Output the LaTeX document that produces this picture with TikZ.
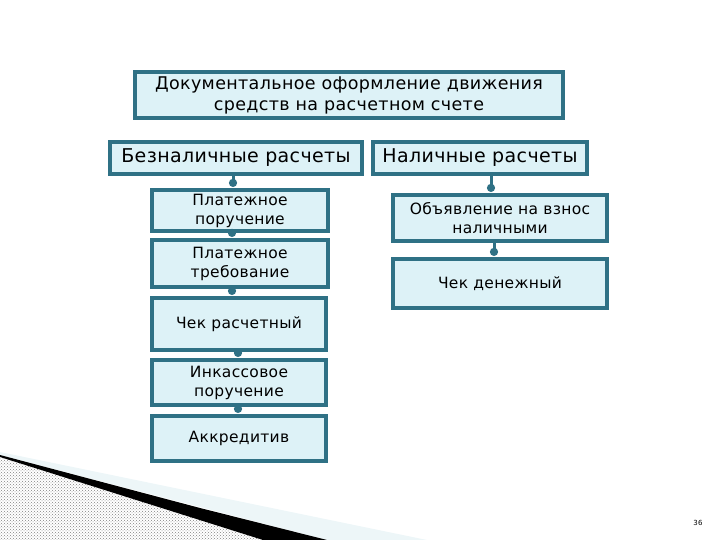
\documentclass[tikz,border=0pt]{standalone}
\usepackage{fontspec}
\setmainfont[LetterSpace=2]{DejaVu Sans}
\usepackage{tikz}
\usetikzlibrary{positioning,arrows.meta,patterns}

\definecolor{boxline}{HTML}{2F7185}
\definecolor{boxfill}{HTML}{DDF2F7}
\definecolor{swoosh}{HTML}{EDF6F8}

\begin{document}
\begin{tikzpicture}[
    x=1pt, y=-1pt,
    box/.style   ={draw=boxline, fill=boxfill, line width=3.2pt, align=center, inner sep=1pt},
    titlebox/.style={box, font=\fontsize{17.5}{21}\selectfont, minimum width=428pt, minimum height=46pt},
    kindbox/.style ={box, font=\fontsize{19}{21}\selectfont, minimum height=32pt},
    docbox/.style  ={box, font=\fontsize{15.5}{19}\selectfont, minimum width=176pt},
    link/.style    ={-{Circle[length=8pt,width=8pt]}, line width=3pt, draw=boxline, shorten >=1.5pt},
  ]
  \useasboundingbox (0,0) rectangle (720,540);
  % bottom left decoration
  \fill[swoosh] (0,452) -- (427,540) -- (327,540) -- (0,455) -- cycle;
  \fill[black] (0,455) -- (200,508) -- (327,540) -- (263,540) -- (0,457) -- cycle;
  \fill[pattern=crosshatch dots, pattern color=gray] (0,457) -- (263,540) -- (0,540) -- cycle;

  \node[titlebox] (top) at (349,95) {Документальное оформление движения\\средств на расчетном счете};
  \node[kindbox, minimum width=252pt] (bez) at (236,158) {Безналичные расчеты};
  \node[kindbox, minimum width=214pt] (nal) at (480,158) {Наличные расчеты};

  \node[docbox, minimum height=41pt] (pp)  at (240,210.5) {Платежное\\поручение};
  \node[docbox, minimum height=47pt] (pt)  at (240,263.5) {Платежное\\требование};
  \node[docbox, minimum height=52pt, minimum width=174pt] (chr) at (239,324) {Чек расчетный};
  \node[docbox, minimum height=45pt, minimum width=174pt] (ink) at (239,382.5) {Инкассовое\\поручение};
  \node[docbox, minimum height=45pt, minimum width=174pt] (akk) at (239,438.5) {Аккредитив};

  \node[docbox, minimum width=214pt, minimum height=46pt] (obj) at (500,218) {Объявление на взнос\\наличными};
  \node[docbox, minimum width=214pt, minimum height=49pt] (chd) at (500,283.5) {Чек денежный};

  \draw[link] ([xshift=-7pt]pp.north |- bez.south) -- ([xshift=-7pt]pp.north);
  \draw[link] ([xshift=-8pt]pt.north |- pp.south)  -- ([xshift=-8pt]pt.north);
  \draw[link] ([xshift=-7pt]chr.north |- pt.south) -- ([xshift=-7pt]chr.north);
  \draw[link] ([xshift=-1pt]ink.north |- chr.south) -- ([xshift=-1pt]ink.north);
  \draw[link] ([xshift=-1pt]akk.north |- ink.south) -- ([xshift=-1pt]akk.north);
  \draw[link] ([xshift=-9pt]obj.north |- nal.south) -- ([xshift=-9pt]obj.north);
  \draw[link] ([xshift=-6pt]chd.north |- obj.south) -- ([xshift=-6pt]chd.north);

  \node[font=\fontsize{7}{8}\selectfont] (pageno) at (698,523) {36};
\end{tikzpicture}
\end{document}
